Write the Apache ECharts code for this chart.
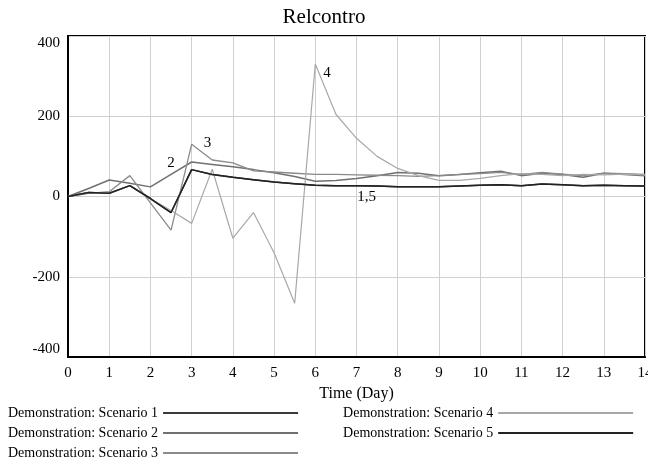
<!DOCTYPE html>
<html>
<head>
<meta charset="utf-8">
<script src="https://cdn.jsdelivr.net/npm/echarts@6/dist/echarts.min.js"></script>
<style>
html, body { margin: 0; padding: 0; background: #fff; }
#chart { width: 648px; height: 457px; }
</style>
</head>
<body>
<div id="chart"></div>
<script>
var days = [0, 0.5, 1, 1.5, 2, 2.5, 3, 3.5, 4, 4.5, 5, 5.5, 6, 6.5, 7, 7.5, 8, 8.5, 9, 9.5, 10, 10.5, 11, 11.5, 12, 12.5, 13, 13.5, 14];
var scenario1 = [0, 10, 8, 27, -5, -40, 67, 55, 48, 42, 36, 32, 28, 27, 27, 26, 24, 24, 24, 26, 28, 29, 27, 31, 29, 27, 28, 27, 26];
var scenario2 = [0, 20, 41, 33, 24, 55, 86, 80, 74, 67, 59, 50, 38, 40, 45, 52, 60, 58, 52, 55, 59, 63, 52, 58, 55, 48, 58, 55, 52];
var scenario3 = [0, 8, 12, 52, -16, -84, 130, 91, 84, 64, 61, 58, 55, 55, 54, 53, 52, 50, 52, 55, 57, 60, 55, 60, 56, 52, 58, 57, 55];
var scenario4 = [0, 10, 8, 27, -5, -35, -67, 68, -104, -40, -140, -266, 330, 205, 145, 100, 70, 52, 40, 40, 45, 52, 57, 55, 52, 55, 54, 56, 54];
var scenario5 = scenario1.slice();
var yTicks = [-400, -200, 0, 200, 400];
var names = ['Demonstration: Scenario 1', 'Demonstration: Scenario 2', 'Demonstration: Scenario 3',
	'Demonstration: Scenario 4', 'Demonstration: Scenario 5'];

var serif = 'Liberation Serif';

// series number labels drawn next to one point of the series
function points(values, labelAt, text, pos, offset) {
	return days.map(function (d, i) {
		if (i !== labelAt) return [d, values[i]];
		return {
			value: [d, values[i]],
			label: {
				show: true,
				formatter: text,
				position: pos,
				offset: offset,
				fontFamily: serif,
				fontSize: 15,
				color: '#000'
			}
		};
	});
}

function line(name, data, color, width) {
	return {
		name: name,
		type: 'line',
		data: data,
		showSymbol: true,
		symbol: 'circle',
		symbolSize: 0.01,
		animation: false,
		lineStyle: { color: color, width: width },
		itemStyle: { color: color }
	};
}

// one legend row per line of the reference (two columns)
function legendRow(top, items) {
	return {
		orient: 'horizontal',
		left: 8,
		top: top,
		padding: 0,
		align: 'right',
		itemWidth: 135,
		itemHeight: 2,
		itemGap: 45,
		icon: 'rect',
		data: items,
		textStyle: { fontFamily: serif, fontSize: 14, color: '#000' }
	};
}

var chart = echarts.init(document.getElementById('chart'));
var option = {
	backgroundColor: '#fff',
	title: {
		text: 'Relcontro',
		left: 'center',
		top: 2,
		textStyle: { fontFamily: serif, fontSize: 21, fontWeight: 'normal', color: '#000' }
	},
	legend: [
		legendRow(406, [names[0], names[3]]),
		legendRow(426, [names[1], names[4]]),
		legendRow(446, [names[2]])
	],
	grid: {
		left: 68,
		right: 3,
		top: 36,
		bottom: 100,
		outerBoundsMode: 'none',
		containLabel: false,
		show: true,
		borderColor: '#000',
		borderWidth: 2
	},
	xAxis: {
		type: 'value',
		min: 0,
		max: 14,
		interval: 1,
		name: 'Time (Day)',
		nameLocation: 'middle',
		nameGap: 25,
		nameTextStyle: { fontFamily: serif, fontSize: 16, color: '#000' },
		axisLine: { onZero: false, lineStyle: { color: '#000', width: 2 } },
		axisTick: { show: false },
		axisLabel: { fontFamily: serif, fontSize: 15, color: '#000', margin: 9 },
		splitLine: { lineStyle: { color: '#d0d0d0', width: 1 } }
	},
	yAxis: {
		type: 'value',
		min: yTicks[0],
		max: yTicks[yTicks.length - 1],
		interval: 200,
		axisLine: { onZero: false, lineStyle: { color: '#000', width: 2 } },
		axisTick: { show: false },
		axisLabel: {
			fontFamily: serif, fontSize: 15, color: '#000', margin: 8,
			verticalAlignMaxLabel: 'top',
			verticalAlignMinLabel: 'bottom'
		},
		splitLine: { lineStyle: { color: '#d0d0d0', width: 1 } }
	},
	series: [
		line(names[0], points(scenario1, -1), '#3a3a3a', 1.5),
		line(names[1], points(scenario2, 6, '2', 'left', [-12, 1]), '#707070', 1.5),
		line(names[2], points(scenario3, 6, '3', 'right', [7, -1]), '#8a8a8a', 1.3),
		line(names[3], points(scenario4, 12, '4', 'right', [3, 9]), '#a8a8a8', 1.2),
		line(names[4], points(scenario5, 14, '1,5', 'bottom', [10, -1]), '#222', 1.5)
	]
};
chart.setOption(option);
</script>
</body>
</html>
